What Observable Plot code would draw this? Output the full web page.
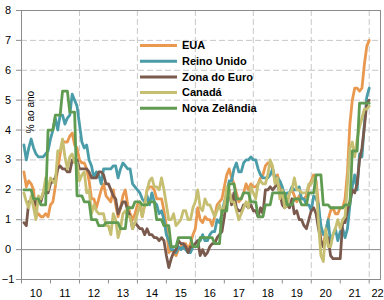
<!DOCTYPE html>
<html><head><meta charset="utf-8">
<script src="https://cdn.jsdelivr.net/npm/d3@7"></script>
<script src="https://cdn.jsdelivr.net/npm/@observablehq/plot@0.6"></script>
<style>
body{margin:0;background:#fff;}
#chart{position:relative;width:384px;height:300px;font-family:"Liberation Sans",Arial,sans-serif;}
</style></head><body><div id="chart"></div>
<script>
const seriesNames = ["EUA", "Reino Unido", "Zona do Euro", "Canadá", "Nova Zelândia"];
const seriesColors = ["#E8984F", "#4A9DA8", "#7B5A4E", "#C6BF72", "#5F9C52"];
const startYear = 2010; // monthly series, Jan 2010 .. Dec 2021

const eua = [
 2.6,2.1,2.3,2.2,2.0,1.1,1.2,1.1,1.1,1.2,1.1,1.5,
 1.6,2.1,2.7,3.2,3.6,3.6,3.6,3.8,3.9,3.5,3.4,3.0,
 2.9,2.9,2.7,2.3,1.7,1.7,1.4,1.7,2.0,2.2,1.8,1.7,
 1.6,2.0,1.5,1.1,1.4,1.8,2.0,1.5,1.2,1.0,1.2,1.5,
 1.6,1.1,1.5,2.0,2.1,2.1,2.0,1.7,1.7,1.7,1.3,0.8,
 -0.1,0.0,-0.1,-0.2,0.0,0.1,0.2,0.2,0.0,0.2,0.5,0.7,
 1.4,1.0,0.9,1.1,1.0,1.0,0.8,1.1,1.5,1.6,1.7,2.1,
 2.5,2.7,2.4,2.2,1.9,1.6,1.7,1.9,2.2,2.0,2.2,2.1,
 2.1,2.2,2.4,2.5,2.8,2.9,2.9,2.7,2.3,2.5,2.2,1.9,
 1.6,1.5,1.9,2.0,1.8,1.6,1.8,1.7,1.7,1.8,2.1,2.3,
 2.5,2.3,1.5,0.3,0.1,0.6,1.0,1.3,1.4,1.2,1.2,1.4,
 1.4,1.7,2.6,4.2,5.0,5.4,5.4,5.3,5.4,6.2,6.8,7.0];

const reinoUnido = [
 3.5,3.0,3.4,3.7,3.4,3.2,3.1,3.1,3.1,3.2,3.3,3.7,
 4.0,4.4,4.0,4.5,4.5,4.2,4.4,4.5,5.2,5.0,4.8,4.2,
 3.6,3.4,3.5,3.0,2.8,2.4,2.6,2.5,2.2,2.7,2.7,2.7,
 2.7,2.8,2.8,2.4,2.7,2.9,2.8,2.7,2.7,2.2,2.1,2.0,
 1.9,1.7,1.6,1.8,1.5,1.9,1.6,1.5,1.2,1.3,1.0,0.5,
 0.3,0.0,0.0,-0.1,0.1,0.0,0.1,0.0,-0.1,-0.1,0.1,0.2,
 0.3,0.3,0.5,0.3,0.3,0.5,0.6,0.6,1.0,0.9,1.2,1.6,
 1.8,2.3,2.3,2.7,2.9,2.6,2.6,2.9,3.0,3.0,3.1,3.0,
 3.0,2.7,2.5,2.4,2.4,2.4,2.5,2.7,2.4,2.4,2.3,2.1,
 1.8,1.9,1.9,2.1,2.0,2.0,2.1,1.7,1.7,1.5,1.5,1.3,
 1.8,1.7,1.5,0.8,0.5,0.6,1.0,0.2,0.5,0.7,0.3,0.6,
 0.7,0.4,0.7,1.5,2.1,2.5,2.0,3.2,3.1,4.2,5.1,5.4];

const zonaDoEuro = [
 0.9,0.8,1.6,1.6,1.7,1.5,1.7,1.6,1.9,1.9,1.9,2.2,
 2.3,2.4,2.7,2.8,2.7,2.7,2.6,2.6,3.0,3.0,3.0,2.7,
 2.7,2.7,2.7,2.6,2.4,2.4,2.4,2.6,2.6,2.5,2.2,2.2,
 2.0,1.8,1.7,1.2,1.4,1.6,1.6,1.3,1.1,0.7,0.9,0.8,
 0.7,0.7,0.5,0.7,0.5,0.5,0.4,0.4,0.3,0.4,0.3,-0.2,
 -0.6,-0.3,-0.1,0.0,0.3,0.2,0.2,0.1,-0.1,0.1,0.1,0.2,
 0.3,-0.2,0.0,-0.2,-0.1,0.1,0.2,0.2,0.4,0.5,0.6,1.1,
 1.7,2.0,1.5,1.9,1.4,1.3,1.3,1.5,1.5,1.4,1.5,1.3,
 1.3,1.1,1.4,1.2,2.0,2.0,2.1,2.0,2.1,2.2,1.9,1.5,
 1.4,1.5,1.4,1.7,1.2,1.3,1.0,1.0,0.8,0.7,1.0,1.3,
 1.4,1.2,0.7,0.3,0.1,0.3,0.4,-0.2,-0.3,-0.3,-0.3,-0.3,
 0.9,0.9,1.3,1.6,2.0,1.9,2.2,3.0,3.4,4.1,4.9,5.0];

const canada = [
 1.9,1.6,1.4,1.8,1.4,1.0,1.8,1.7,1.9,2.4,2.0,2.4,
 2.3,2.2,3.3,3.3,3.7,3.1,2.7,3.1,3.2,2.9,2.9,2.3,
 2.5,2.6,1.9,2.0,1.2,1.5,1.3,1.2,1.2,1.2,0.8,0.8,
 0.5,1.2,1.0,0.4,0.7,1.2,1.3,1.1,1.1,0.7,0.9,1.2,
 1.5,1.1,1.5,2.0,2.3,2.4,2.1,2.1,2.0,2.4,2.0,1.5,
 1.0,1.0,1.2,0.8,0.9,1.0,1.3,1.3,1.0,1.0,1.4,1.6,
 2.0,1.4,1.3,1.7,1.5,1.5,1.3,1.1,1.3,1.5,1.2,1.5,
 2.1,2.0,1.6,1.6,1.3,1.0,1.2,1.4,1.6,1.4,2.1,1.9,
 1.7,2.2,2.3,2.2,2.2,2.5,3.0,2.8,2.2,2.4,1.7,2.0,
 1.4,1.5,1.9,2.0,2.4,2.0,2.0,1.9,1.9,1.9,2.2,2.2,
 2.4,2.2,0.9,-0.2,-0.4,0.7,0.1,0.1,0.5,0.7,1.0,0.7,
 1.0,1.1,2.2,3.4,3.6,3.1,3.7,4.1,4.4,4.7,4.7,4.8];

// quarterly (Q4 2009 .. Q3 2021), each shown over three months
const novaZelandiaTrim = [
 2.0,
 2.0,1.7,1.5,4.0,
 4.5,5.3,4.6,1.8,
 1.6,1.0,0.8,0.9,
 0.9,0.7,1.4,1.6,
 1.5,1.6,1.0,0.8,
 0.1,0.4,0.4,0.1,
 0.4,0.4,0.2,1.3,
 2.2,1.7,1.9,1.6,
 1.1,1.5,1.9,1.9,
 1.5,1.7,1.5,1.9,
 2.5,1.5,1.4,1.4,
 1.5,3.3,4.9];

const yTicks = [-1,0,1,2,3,4,5,6,7,8];
const xTickYears = [2010,2011,2012,2013,2014,2015,2016,2017,2018,2019,2020,2021,2022];
const xGridYears = [2012,2014,2016,2018,2020,2022];
const xLabels = ["10","11","12","13","14","15","16","17","18","19","20","21","22"];
const yTitle = "% ao ano";

const monthly = [eua, reinoUnido, zonaDoEuro, canada];
const rows = [];
seriesNames.forEach((name, s) => {
  for (let i = 0; i < 144; i++) {
    let v;
    if (s < 4) v = monthly[s][i];
    else v = novaZelandiaTrim[Math.min(Math.floor((i + 2) / 3), novaZelandiaTrim.length - 1)];
    rows.push({series: name, t: startYear + (i + 1) / 12, v});
  }
});

const labelRows = xTickYears.map((y, i) => ({x: y + 0.5, label: xLabels[i]}));
const axisGray = "#8c8c8c";
const gridGray = "#c8c8c8";

const chart = Plot.plot({
  width: 384, height: 300,
  marginLeft: 21, marginRight: 4, marginTop: 10, marginBottom: 21,
  x: {domain: [2010, 2022.39], axis: null, label: null},
  y: {domain: [-1, 8], axis: null, label: null},
  color: {domain: seriesNames, range: seriesColors},
  style: {fontFamily: "'Liberation Sans', Arial, sans-serif", fontSize: "11px", background: "white", color: "#000"},
  marks: [
    Plot.gridY(yTicks.filter(d => d > 0 && d < 8), {stroke: gridGray, strokeOpacity: 1, strokeDasharray: "6,3"}),
    Plot.gridX(xGridYears, {stroke: gridGray, strokeOpacity: 1, strokeDasharray: "6,3"}),
    Plot.ruleY([0], {stroke: axisGray}),
    Plot.frame({stroke: axisGray}),
    Plot.axisY(yTicks, {tickSize: 5, tickPadding: 8.5, textAnchor: "middle", stroke: axisGray, fill: "#000", fontSize: 11, label: null}),
    Plot.axisX(xTickYears, {tickSize: 4.5, tickFormat: () => "", stroke: axisGray, label: null}),
    Plot.text(labelRows.slice(0, -1), {x: "x", y: () => -1, text: "label", dy: 14, fill: "#000", fontSize: 11}),
    Plot.text(labelRows.slice(-1), {x: "x", y: () => -1, text: "label", dy: 14, textAnchor: "end", fill: "#000", fontSize: 11}),
    Plot.text([yTitle], {frameAnchor: "top-left", dx: 5.5, dy: 101.5, rotate: -90, textAnchor: "middle", fill: "#000", fontSize: 10}),
    Plot.line(rows, {x: "t", y: "v", z: "series", stroke: "series", strokeWidth: 2.8, strokeLinejoin: "round"})
  ]
});

const svg = d3.select(chart);
document.getElementById("chart").appendChild(chart);

// legend
const lg = svg.append("g")
  .attr("font-family", "'Liberation Sans', Arial, sans-serif")
  .attr("font-size", 11).attr("font-weight", "bold").attr("text-anchor", "start");
seriesNames.forEach((name, i) => {
  const y = 45.5 + i * 15.7;
  lg.append("line").attr("x1", 140).attr("x2", 177).attr("y1", y).attr("y2", y)
    .attr("stroke", seriesColors[i]).attr("stroke-width", 3);
  lg.append("text").attr("x", 182).attr("y", y).attr("dy", "0.35em")
    .attr("text-anchor", "start").attr("fill", "#000").text(name);
});
</script></body></html>
